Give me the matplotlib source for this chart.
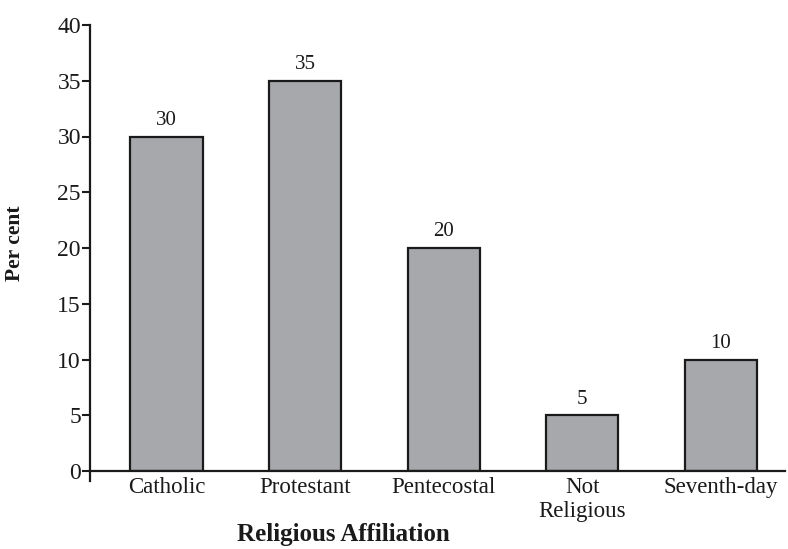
import matplotlib
matplotlib.use('Agg')
import matplotlib.pyplot as plt
import numpy as np

# data
categories = ['Catholic', 'Protestant', 'Pentecostal', 'Not\nReligious', 'Seventh-day']
percent = [30, 35, 20, 5, 10]
yticks = [0, 5, 10, 15, 20, 25, 30, 35, 40]

plt.rcParams['font.family'] = ['Liberation Serif', 'DejaVu Serif']

W, H = 788, 549
fig = plt.figure(figsize=(W/100, H/100), dpi=100)
# axes box in pixels: left=90, right=785, y=0 at 471, y=40 at 25
ax = fig.add_axes([90/W, 1-471/H, (785-90)/W, (471-25)/H])

x = np.arange(len(categories))
bars = ax.bar(x, percent, width=0.52, color='#a7a8ab', edgecolor='#1a1a1a',
              linewidth=1.6, zorder=2)

for xi, v in zip(x, percent):
    ax.text(xi, v + 0.6, str(v), ha='center', va='bottom', fontsize=15, color='#1a1a1a')

ax.set_xlim(-0.552, 4.462)
ax.set_ylim(0, 40)

ax.set_xticks(x)
ax.set_xticklabels(categories, fontsize=16.5, color='#1a1a1a', multialignment='center',
                   linespacing=1.2)
ax.tick_params(axis='x', length=0, pad=4)

ax.set_yticks(yticks)
ax.set_yticklabels([str(t) for t in yticks], fontsize=17, color='#1a1a1a')
ax.tick_params(axis='y', length=6, width=1.5, pad=0.5, color='#1a1a1a')

for s in ['top', 'right', 'bottom']:
    ax.spines[s].set_visible(False)
ax.spines['left'].set_linewidth(1.6)
ax.spines['left'].set_color('#1a1a1a')
ax.spines['left'].set_bounds(-0.9, 40)
ax.axhline(0, color='#1a1a1a', linewidth=1.6, zorder=3, clip_on=False)

fig.text(343/W, 1-535/H, 'Religious Affiliation', ha='center', va='center',
         fontsize=18, fontweight='bold', color='#1a1a1a')
fig.text(15/W, 1-243/H, 'Per cent', ha='center', va='center', rotation=90,
         fontsize=15.5, fontweight='bold', color='#1a1a1a')

fig.savefig('out.png', dpi=100)
